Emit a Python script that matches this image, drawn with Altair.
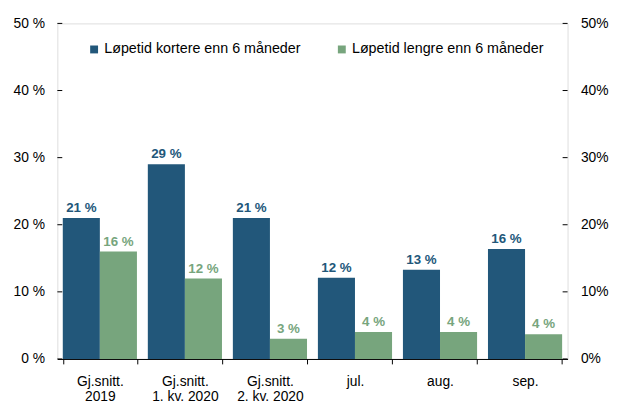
import altair as alt
import pandas as pd

categories = ["Gj.snitt.|2019", "Gj.snitt.|1. kv. 2020", "Gj.snitt.|2. kv. 2020", "jul.", "aug.", "sep."]
series = ["Løpetid kortere enn 6 måneder", "Løpetid lengre enn 6 måneder"]
short_vals = [21.0, 29.0, 21.0, 12.1, 13.3, 16.4]
long_vals = [16.0, 12.0, 3.0, 4.0, 4.0, 3.7]
short_labels = ["21 %", "29 %", "21 %", "12 %", "13 %", "16 %"]
long_labels = ["16 %", "12 %", "3 %", "4 %", "4 %", "4 %"]
y_ticks = [0, 10, 20, 30, 40, 50]
colors = ["#22577A", "#77A57D"]

rows = []
for c, v, l in zip(categories, short_vals, short_labels):
    rows.append({"cat": c, "serie": series[0], "val": v, "lab": l})
for c, v, l in zip(categories, long_vals, long_labels):
    rows.append({"cat": c, "serie": series[1], "val": v, "lab": l})
df = pd.DataFrame(rows)
ticks_df = pd.DataFrame({"t": y_ticks})

W, H = 517, 340
FONT = "Liberation Sans"

yscale = alt.Scale(domain=[0, 50], nice=False)
xenc = alt.X("cat:N", sort=categories, title=None,
             scale=alt.Scale(paddingInner=0.128, paddingOuter=0.064),
             axis=alt.Axis(labelAngle=0, labelExpr="split(datum.label, '|')",
                           tickBand="extent", tickSize=5, tickColor="black",
                           domainColor="black", labelPadding=11, labelLineHeight=15,
                           labelFontSize=14, labelColor="black", labelFont=FONT,
                           labelBaseline="top"))
color = alt.Color("serie:N", sort=series,
                  scale=alt.Scale(domain=series, range=colors),
                  legend=alt.Legend(title=None, orient="none", direction="horizontal",
                                    legendX=30, legendY=19, symbolType="square",
                                    symbolSize=64, symbolStrokeWidth=0, labelFontSize=14.5,
                                    labelFont=FONT, labelColor="black", labelOffset=3,
                                    labelLimit=0, columnPadding=34, padding=0))
xoff = alt.XOffset("serie:N", sort=series, scale=alt.Scale(domain=series))

bars = alt.Chart(df).mark_bar().encode(
    x=xenc,
    xOffset=xoff,
    y=alt.Y("val:Q", scale=yscale, title=None,
            axis=alt.Axis(values=y_ticks, labelExpr="datum.value + ' %'", ticks=False,
                          domain=False, grid=False, labelPadding=13, labelFontSize=14,
                          labelFont=FONT, labelColor="black")),
    color=color,
)

texts = alt.Chart(df).mark_text(baseline="alphabetic", dy=-6, fontWeight="bold",
                                fontSize=13.5, font=FONT).encode(
    x=alt.X("cat:N", sort=categories),
    xOffset=xoff,
    y=alt.Y("val:Q", scale=yscale, axis=None),
    text="lab:N",
    color=color,
)

left_ticks = alt.Chart(ticks_df).mark_rule(color="black", strokeWidth=1).encode(
    x=alt.value(0), x2=alt.value(5),
    y=alt.Y("t:Q", scale=yscale, axis=None),
)
right_ticks = alt.Chart(ticks_df).mark_rule(color="black", strokeWidth=1).encode(
    x=alt.value(W - 5), x2=alt.value(W),
    y=alt.Y("t:Q", scale=yscale, axis=None),
)
right_axis = alt.Chart(ticks_df).mark_rule(opacity=0).encode(
    x=alt.value(0), x2=alt.value(1),
    y=alt.Y("t:Q", scale=yscale, title=None,
            axis=alt.Axis(orient="right", values=y_ticks, labelExpr="datum.value + '%'",
                          ticks=False, domain=False, grid=False, labelPadding=13,
                          labelFontSize=14, labelFont=FONT, labelColor="black")),
)

chart = alt.layer(bars, texts, left_ticks, right_ticks, right_axis).resolve_scale(
    y="independent"
).properties(
    width=W, height=H,
    autosize=alt.AutoSizeParams(type="none"),
    padding={"left": 50, "top": 13, "right": 43, "bottom": 42},
).configure_view(stroke="black", strokeWidth=1).configure(background="white")

chart.save("out.html", embed_options={"renderer": "svg", "actions": False})
